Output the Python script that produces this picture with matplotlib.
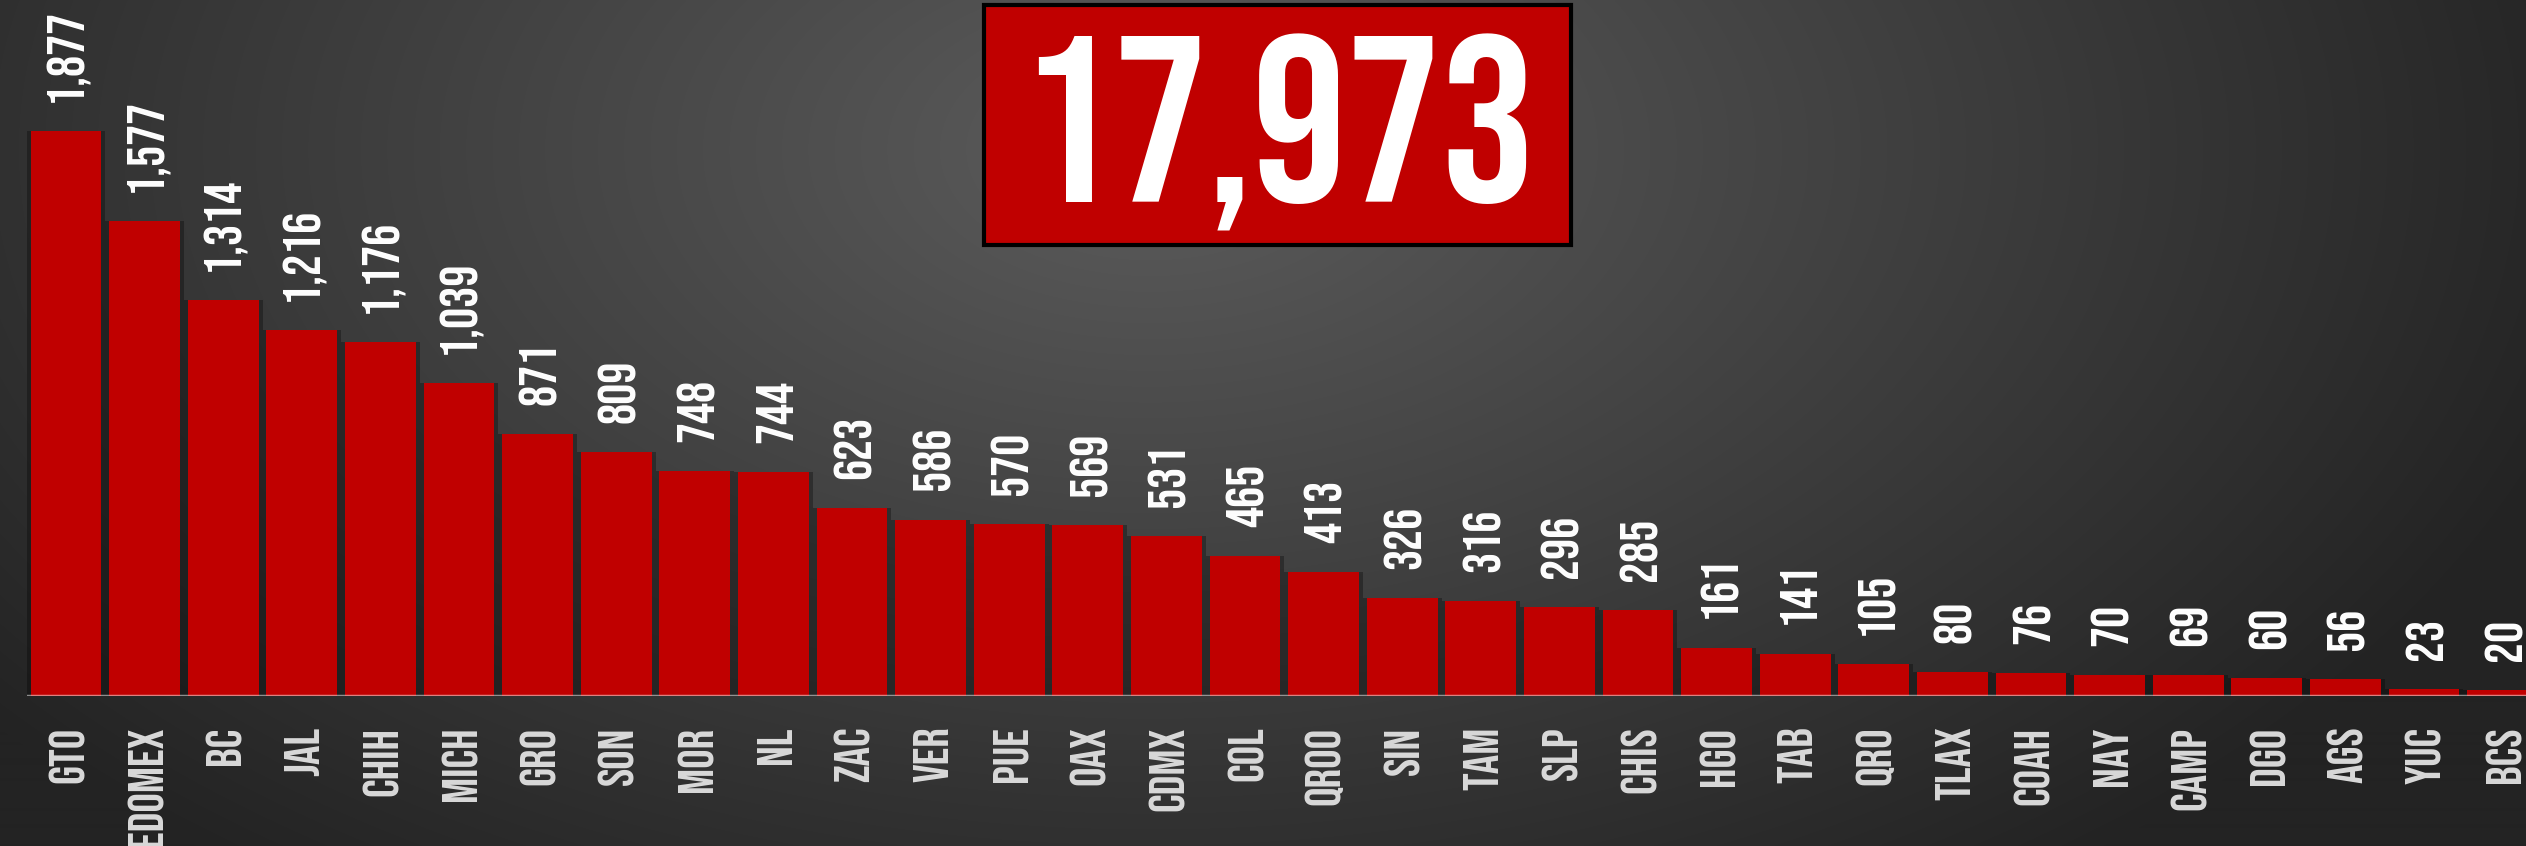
import numpy as np
import matplotlib
matplotlib.use("Agg")
import matplotlib.pyplot as plt
from matplotlib import font_manager
from matplotlib.patches import Rectangle

# datos
estados = ["GTO", "EDOMEX", "BC", "JAL", "CHIH", "MICH", "GRO", "SON", "MOR", "NL",
           "ZAC", "VER", "PUE", "OAX", "CDMX", "COL", "QROO", "SIN", "TAM", "SLP",
           "CHIS", "HGO", "TAB", "QRO", "TLAX", "COAH", "NAY", "CAMP", "DGO", "AGS",
           "YUC", "BCS"]
valores = [1877, 1577, 1314, 1216, 1176, 1039, 871, 809, 748, 744,
           623, 586, 570, 569, 531, 465, 413, 326, 316, 296,
           285, 161, 141, 105, 80, 76, 70, 69, 60, 56,
           23, 20]
total_texto = "17,973"

# fuente angosta si existe
disponibles = {f.name for f in font_manager.fontManager.ttflist}
fuente = "DejaVu Sans"
for cand in ["Bebas Neue", "Roboto Condensed", "Liberation Sans Narrow"]:
    if cand in disponibles:
        fuente = cand
        break

W, H = 2526, 846
fig = plt.figure(figsize=(W / 100, H / 100), dpi=100)

# fondo degradado
bg = fig.add_axes([0, 0, 1, 1], zorder=-10)
yy, xx = np.mgrid[0:H, 0:W]
d = np.sqrt(((xx - 1150) / 1500.0) ** 2 + ((yy - 150) / 900.0) ** 2)
d = np.clip(d, 0, 1)
c_centro = np.array([0x5c, 0x5c, 0x5c]) / 255
c_borde = np.array([0x23, 0x23, 0x23]) / 255
img = c_centro[None, None, :] * (1 - d[..., None]) + c_borde[None, None, :] * d[..., None]
bg.imshow(img, aspect="auto", extent=[0, 1, 0, 1])
bg.axis("off")

# ejes de barras
left = 26.7 / W
ax = fig.add_axes([left, 150 / H, 32 * 78.6 / W, 696 / H])
ax.patch.set_alpha(0)
x = np.arange(len(estados))
# sombra suave detras de las barras
ax.bar(x, valores, width=1.0, color="black", alpha=0.3, zorder=1)
ax.bar(x, valores, width=0.9, color="#c00000", zorder=2)
ax.axhline(0, color="white", alpha=0.5, lw=2.5, zorder=3)
ax.set_xlim(-0.5, len(estados) - 0.5)
ax.set_ylim(0, 2312)

for xi, v in zip(x, valores):
    ax.annotate(f"{v:,}", (xi, v), xytext=(0, 21), textcoords="offset points",
                rotation=90, ha="center", va="bottom", color="white",
                fontsize=38, fontweight="bold", family=fuente)

ax.set_xticks(x)
ax.set_xticklabels(estados, rotation=90, fontsize=35, fontweight="bold",
                   color="#d9d9d9", family=fuente, va="top")
ax.tick_params(axis="x", length=0, pad=22)
ax.set_yticks([])
for s in ax.spines.values():
    s.set_visible(False)

# caja del total
fig.patches.append(Rectangle((984 / W, (H - 245) / H), (1571 - 984) / W, 240 / H,
                             transform=fig.transFigure, facecolor="#c00000",
                             edgecolor="black", linewidth=3, zorder=5))
fig.text(1277 / W, (H - 132) / H, total_texto, ha="center", va="center",
         color="white", fontsize=170, fontweight="bold", family=fuente, zorder=6)

fig.savefig("out.png", dpi=100)
